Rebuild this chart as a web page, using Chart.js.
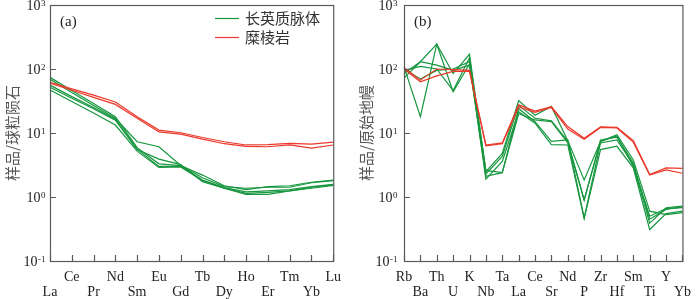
<!DOCTYPE html>
<html>
<head>
<meta charset="utf-8">
<script src="https://cdn.jsdelivr.net/npm/chart.js@4.4.0/dist/chart.umd.min.js"></script>
<style>
  html, body { margin: 0; padding: 0; background: #fff; }
  #wrap { position: relative; width: 700px; height: 299px; }
  canvas { position: absolute; top: 0; }
  #chartA { left: 0; }
  #chartB { left: 350px; }
</style>
</head>
<body>
<div id="wrap">
  <canvas id="chartA" width="350" height="299"></canvas>
  <canvas id="chartB" width="350" height="299"></canvas>
</div>
<script>
// ---- data ----
const yTicks = [0.1, 1, 10, 100, 1000];

// (a) chondrite-normalised REE
const reeLabels = ['La', 'Ce', 'Pr', 'Nd', 'Sm', 'Eu', 'Gd', 'Tb', 'Dy', 'Ho', 'Er', 'Tm', 'Yb', 'Lu'];
const reeFelsic1 = [74, 46, 29, 18, 5.9, 3.3, 3.1, 2.2, 1.5, 1.3, 1.45, 1.5, 1.7, 1.84];
const reeFelsic2 = [69, 43, 27, 17, 7.3, 6.1, 3.1, 2.0, 1.45, 1.37, 1.42, 1.42, 1.67, 1.8];
const reeFelsic3 = [56, 37, 25, 16.4, 5.6, 3.0, 3.0, 1.84, 1.4, 1.2, 1.25, 1.3, 1.45, 1.58];
const reeFelsic4 = [52, 35, 24, 15.9, 5.5, 3.9, 3.2, 1.74, 1.37, 1.14, 1.18, 1.25, 1.42, 1.55];
const reeFelsic5 = [47, 31, 20.5, 13.3, 5.2, 2.9, 2.95, 1.8, 1.37, 1.1, 1.1, 1.24, 1.37, 1.52];
const reeMylonite1 = [62, 49, 39, 30.5, 18, 11.1, 10.1, 8.5, 7.3, 6.5, 6.6, 6.9, 6.7, 7.2];
const reeMylonite2 = [60, 46.5, 36, 28, 17, 10.4, 9.6, 8.0, 6.8, 6.2, 6.1, 6.5, 5.8, 6.5];

// (b) primitive-mantle-normalised trace elements
const spiderLabels = ['Rb', 'Ba', 'Th', 'U', 'K', 'Nb', 'Ta', 'La', 'Ce', 'Sr', 'Nd', 'P', 'Zr', 'Hf', 'Sm', 'Ti', 'Y', 'Yb'];
const spFelsic1 = [108, 18, 245, 85, 170, 2.5, 4.8, 32, 19, 26, 7.6, 1.85, 7.4, 9.4, 3.8, 0.6, 0.53, 0.57];
const spFelsic2 = [85, 130, 245, 44, 120, 2.3, 4.3, 27, 17, 15.5, 7.4, 0.9, 7.8, 8.6, 3.4, 0.45, 0.64, 0.70];
const spFelsic3 = [72, 130, 115, 95, 115, 2.1, 2.4, 24, 15, 7.4, 7.8, 0.47, 7.0, 7.8, 3.2, 0.39, 0.68, 0.72];
const spFelsic4 = [100, 70, 95, 100, 130, 1.9, 3.6, 21.5, 14.2, 6.6, 6.5, 0.46, 5.5, 6.2, 2.85, 0.31, 0.55, 0.60];
const spFelsic5 = [95, 110, 100, 46, 150, 2.6, 2.4, 20, 16, 15, 7.0, 0.9, 7.4, 9.0, 3.0, 0.5, 0.66, 0.68];
const spMylonite1 = [106, 67, 100, 98, 95, 6.5, 7.0, 27.5, 22, 25.7, 12.6, 8.3, 12.5, 12.3, 7.6, 2.25, 2.85, 2.8];
const spMylonite2 = [100, 63, 78, 92, 92, 6.3, 6.8, 25.5, 21, 25, 11.5, 8.0, 12.2, 12.0, 7.2, 2.2, 2.65, 2.35];

const GREEN = 'rgb(22,150,62)';
const RED = 'rgb(234,56,42)';
const SERIF = '"Liberation Serif", "Times New Roman", serif';
const CJK = '"Noto Sans CJK SC", "Noto Sans", sans-serif';

function series(data, color) {
    return { data: data, borderColor: color, borderWidth: 1.2, pointRadius: 0, fill: false, tension: 0 };
}

// frame, inward ticks, 10^n labels, panel tag and legend
const framePlugin = {
    id: 'frame',
    afterDraw(chart, args, opts) {
        const { ctx, chartArea: a, scales } = chart;
        ctx.save();
        ctx.strokeStyle = '#5a5a5a';
        ctx.lineWidth = 1.2;
        ctx.strokeRect(a.left + 0.5, a.top + 0.5, a.right - a.left, a.bottom - a.top);

        ctx.beginPath();
        scales.x.ticks.forEach((t, i) => {
            const x = Math.round(scales.x.getPixelForTick(i)) + 0.5;
            ctx.moveTo(x, a.bottom);
            ctx.lineTo(x, a.bottom - 6);
        });
        scales.y.ticks.forEach(t => {
            const y = Math.round(scales.y.getPixelForValue(t.value)) + 0.5;
            ctx.moveTo(a.left, y);
            ctx.lineTo(a.left + 6, y);
        });
        ctx.stroke();

        // y tick labels as 10 with a raised exponent
        ctx.fillStyle = '#222';
        scales.y.ticks.forEach(t => {
            const y = scales.y.getPixelForValue(t.value);
            const exp = String(Math.round(Math.log10(t.value)));
            ctx.font = '9px ' + SERIF;
            const ew = ctx.measureText(exp).width;
            const tenRight = a.left - opts.labelGap - ew;
            ctx.font = '14px ' + SERIF;
            ctx.textAlign = 'right';
            ctx.textBaseline = 'middle';
            ctx.fillText('10', tenRight, y + 1);
            ctx.font = '9px ' + SERIF;
            ctx.textAlign = 'left';
            ctx.textBaseline = 'top';
            ctx.fillText(exp, tenRight + 0.5, y - 6);
        });

        ctx.font = '15px ' + SERIF;
        ctx.textAlign = 'left';
        ctx.textBaseline = 'middle';
        ctx.fillText(opts.tag, a.left + 10, a.top + 17);

        if (opts.legend) {
            const items = [['长英质脉体', GREEN, 18], ['糜棱岩', RED, 37]];
            items.forEach(([text, color, y]) => {
                ctx.strokeStyle = color;
                ctx.lineWidth = 1.2;
                ctx.beginPath();
                ctx.moveTo(215, y + 0.5);
                ctx.lineTo(239, y + 0.5);
                ctx.stroke();
                ctx.fillStyle = '#333';
                ctx.font = '15px ' + CJK;
                ctx.fillText(text, 245, y);
            });
        }
        ctx.restore();
    }
};

function makeChart(id, labels, datasets, cfg) {
    return new Chart(document.getElementById(id), {
        type: 'line',
        data: { labels: labels, datasets: datasets },
        plugins: [framePlugin],
        options: {
            responsive: false,
            animation: false,
            layout: { autoPadding: false, padding: { top: 5, right: cfg.padRight, left: 0, bottom: 0 } },
            scales: {
                x: {
                    type: 'category',
                    offset: false,
                    afterFit: s => { s.height = 38; },
                    grid: { display: false, drawTicks: false },
                    border: { display: false },
                    ticks: {
                        autoSkip: false, maxRotation: 0, minRotation: 0, padding: 9,
                        color: '#222',
                        font: { family: SERIF, size: 14, lineHeight: 1.08 },
                        callback: function (value, index) {
                            const lab = this.getLabelForValue(value);
                            const upper = (index % 2 === 0) === cfg.firstUpper;
                            return upper ? [lab, ''] : ['', lab];
                        }
                    }
                },
                y: {
                    type: 'logarithmic',
                    min: 0.1,
                    max: 1000,
                    afterBuildTicks: s => { s.ticks = yTicks.map(v => ({ value: v })); },
                    afterFit: s => { s.width = cfg.axisWidth; },
                    grid: { display: false, drawTicks: false },
                    border: { display: false },
                    ticks: { display: false },
                    title: {
                        display: true,
                        text: cfg.yTitle,
                        color: '#555',
                        font: { family: CJK, size: 15 },
                        padding: { top: cfg.titlePad, bottom: 0 }
                    }
                }
            },
            plugins: {
                legend: { display: false },
                tooltip: { enabled: false },
                frame: { tag: cfg.tag, legend: cfg.legend, labelGap: cfg.labelGap }
            }
        }
    });
}

makeChart('chartA', reeLabels, [
    series(reeMylonite1, RED),
    series(reeMylonite2, RED),
    series(reeFelsic1, GREEN),
    series(reeFelsic2, GREEN),
    series(reeFelsic3, GREEN),
    series(reeFelsic4, GREEN),
    series(reeFelsic5, GREEN)
], { padRight: 6, axisWidth: 50, firstUpper: false, yTitle: '样品/球粒陨石', titlePad: 3, tag: '(a)', legend: true, labelGap: 5 });

makeChart('chartB', spiderLabels, [
    series(spMylonite1, RED),
    series(spMylonite2, RED),
    series(spFelsic1, GREEN),
    series(spFelsic2, GREEN),
    series(spFelsic3, GREEN),
    series(spFelsic4, GREEN),
    series(spFelsic5, GREEN)
], { padRight: 9, axisWidth: 54, firstUpper: true, yTitle: '样品/原始地幔', titlePad: 7, tag: '(b)', legend: false, labelGap: 7 });
</script>
</body>
</html>
